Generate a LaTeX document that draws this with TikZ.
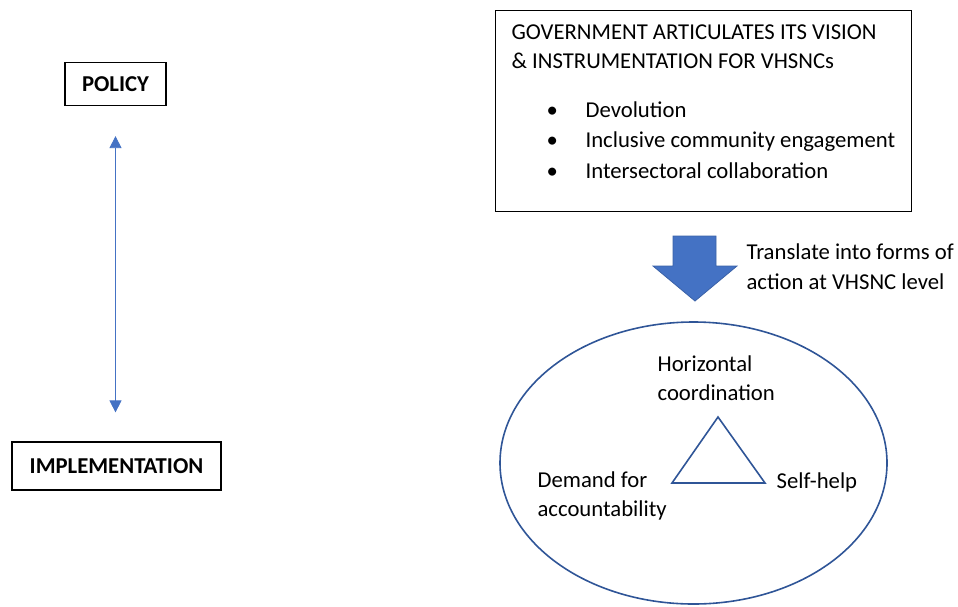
\documentclass[tikz,border=0pt]{standalone}
\usepackage{fontspec}
\setmainfont{Carlito}
\usetikzlibrary{arrows.meta}
\definecolor{accentblue}{HTML}{4472C4}
\definecolor{ringblue}{HTML}{2F5597}

\begin{document}
\begin{tikzpicture}[x=1pt, y=-1pt, line width=1.2pt,
        font=\fontsize{22.7}{30}\selectfont,
        box/.style={draw, rectangle, inner sep=0pt},
        lbl/.style={anchor=base west, inner sep=0pt}]
        \useasboundingbox (0,0) rectangle (958,606);

        % Levels
        \node[box, minimum width=101pt, minimum height=43pt, font=\fontsize{22.7}{30}\selectfont\bfseries] (policy) at (115.5,84) {POLICY};
        \node[box, minimum width=209pt, minimum height=48pt, font=\fontsize{22.7}{30}\selectfont\bfseries] (impl) at (116.5,466) {IMPLEMENTATION};
        \draw[accentblue, line width=0.8pt, {Triangle[width=12pt,length=12pt]}-{Triangle[width=12pt,length=12pt]},
            shorten <=30pt, shorten >=29pt] (policy.south) -- (policy.south |- impl.north);

        % Government vision
        \node[box, minimum width=416pt, minimum height=201pt, anchor=north west] (gov) at (495,10) {};
        \node[lbl] (title1) at (511,39) {GOVERNMENT ARTICULATES ITS VISION};
        \node[lbl] (title2) at (511,68) {\& INSTRUMENTATION FOR VHSNCs};
        \foreach \y/\txt [count=\i] in {117/Devolution, 147/Inclusive community engagement, 178/Intersectoral collaboration} {
            \node[lbl] (dot\i) at (546,\y) {\textbullet};
            \node[lbl] (item\i) at (585,\y) {\txt};
        }

        % Translate arrow
        \filldraw[fill=accentblue, draw=accentblue!85!black, line width=0.8pt]
            (673,236) -- (716,236) -- (716,266) -- (737,266) -- (695,301) -- (653,266) -- (673,266) -- cycle;
        \node[lbl] (trans1) at (746,259) {Translate into forms of};
        \node[lbl] (trans2) at (746,289) {action at VHSNC level};

        % VHSNC level
        \draw[ringblue, line width=1.6pt] (693.5,463) ellipse [x radius=193.5, y radius=141];
        \draw[ringblue, line width=1.6pt, line join=miter] (718,417) -- (672,483) -- (765,483) -- cycle;
        \node[lbl] (horiz1) at (657,371) {Horizontal};
        \node[lbl] (horiz2) at (657,400) {coordination};
        \node[lbl] (demand1) at (537,487) {Demand for};
        \node[lbl] (demand2) at (537,516) {accountability};
        \node[lbl] (selfhelp) at (776,488) {Self-help};
    \end{tikzpicture}
\end{document}
